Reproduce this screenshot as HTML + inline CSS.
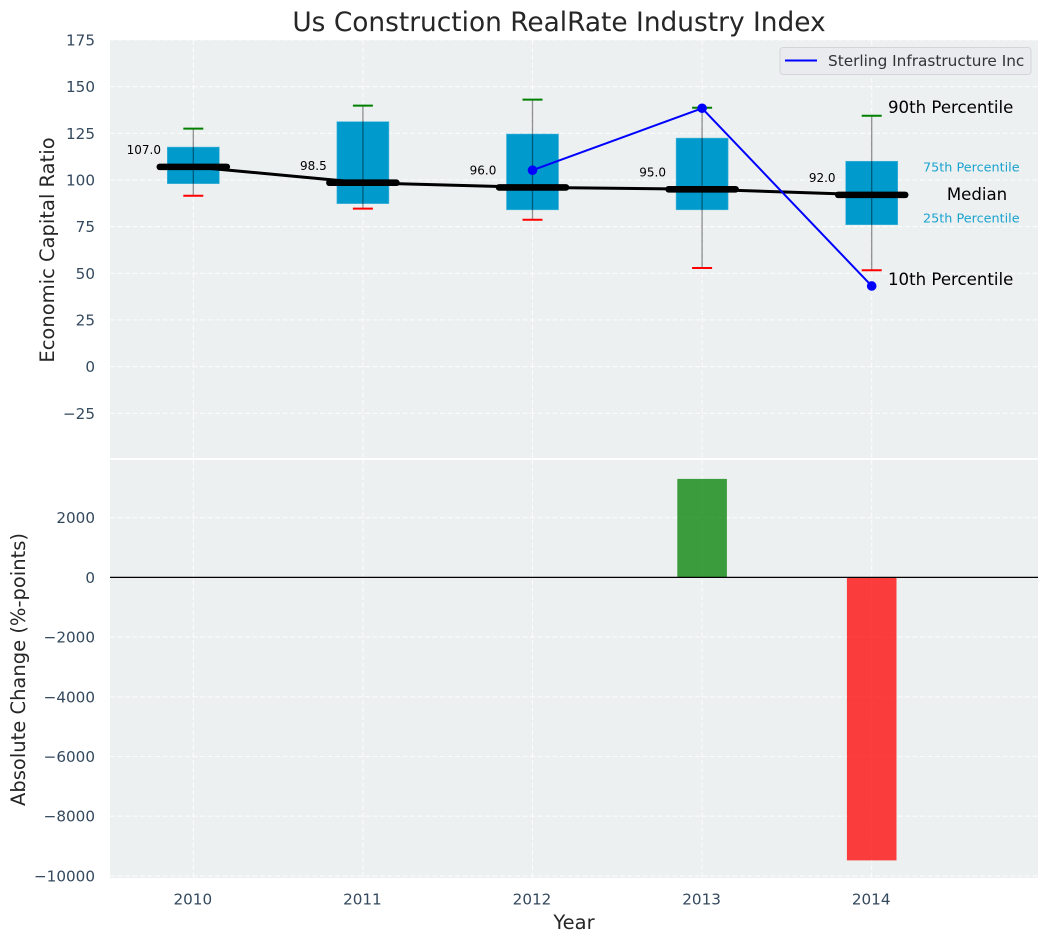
<!DOCTYPE html>
<html>
<head>
<meta charset="utf-8">
<title>Us Construction RealRate Industry Index</title>
<style>
html,body{margin:0;padding:0;background:#fff;width:1048px;height:942px;overflow:hidden}
svg{display:block}
text{font-family:"DejaVu Sans","Liberation Sans",sans-serif}
</style>
</head>
<body>
<svg id="chart" xmlns="http://www.w3.org/2000/svg" width="1048" height="942" viewBox="0 0 1048 942">
  <defs>
    <clipPath id="clip-top"><rect x="110" y="40" width="928" height="418"></rect></clipPath>
    <clipPath id="clip-bottom"><rect x="110" y="460" width="928" height="418"></rect></clipPath>
  </defs>
  <rect x="110" y="40" width="928" height="418" fill="#ecf0f1"></rect>
  <rect x="110" y="460" width="928" height="418" fill="#ecf0f1"></rect>
  <g id="top-grid" clip-path="url(#clip-top)"></g>
  <g id="bottom-grid" clip-path="url(#clip-bottom)"></g>
  <g id="boxes" clip-path="url(#clip-top)"></g>
  <g id="bars" clip-path="url(#clip-bottom)"></g>
  <g id="ticks"></g>
  <text x="559" y="31" font-size="26.4" fill="#262626" text-anchor="middle">Us Construction RealRate Industry Index</text>
  <text transform="translate(54,250) rotate(-90)" font-size="19.5" fill="#262626" text-anchor="middle">Economic Capital Ratio</text>
  <text transform="translate(25,669.5) rotate(-90)" font-size="19.5" fill="#262626" text-anchor="middle">Absolute Change (%-points)</text>
  <text x="574" y="929" font-size="19.5" fill="#262626" text-anchor="middle">Year</text>
  <text x="888" y="113" font-size="16.6" fill="#000">90th Percentile</text>
  <text x="923" y="171.5" font-size="12.8" fill="#1ba3cf">75th Percentile</text>
  <text x="977" y="200" font-size="16.6" fill="#000" text-anchor="middle">Median</text>
  <text x="923" y="222.5" font-size="12.8" fill="#1ba3cf">25th Percentile</text>
  <text x="888" y="285" font-size="16.6" fill="#000">10th Percentile</text>
  <g>
    <rect x="780" y="47.5" width="251" height="27" rx="3" fill="#e9ebef" stroke="#d3d5d8" stroke-width="1"></rect>
    <line x1="785" y1="60.5" x2="817" y2="60.5" stroke="#0000ff" stroke-width="2"></line>
    <text x="828" y="66" font-size="15.3" fill="#333">Sterling Infrastructure Inc</text>
  </g>
</svg>
<script>
var years = [2010, 2011, 2012, 2013, 2014];
var medians = [107, 98.5, 96, 95, 92];
var p25 = [98, 87.3, 84, 84, 76];
var p75 = [117.6, 131.2, 124.6, 122.4, 110];
var p10 = [91.5, 84.6, 78.7, 52.8, 51.6];
var p90 = [127.5, 139.8, 143, 138.7, 134.4];
var companyYears = [2012, 2013, 2014];
var companyValues = [105.2, 138.4, 43.2];
var changeValues = [0, 0, 0, 3300, -9480];
var topTicks = [175, 150, 125, 100, 75, 50, 25, 0, -25];
var bottomTicks = [2000, 0, -2000, -4000, -6000, -8000, -10000];

var NS = 'http://www.w3.org/2000/svg';
function xScale(v) { return 193.3 + (v - 2010) * 169.6; }
function yTop(v) { return 366.6 - v * 1.8667; }
function yBottom(v) { return 577.4 - v * 0.02985; }
function mk(tag, attrs, parent) {
  var el = document.createElementNS(NS, tag);
  for (var k in attrs) { el.setAttribute(k, attrs[k]); }
  parent.appendChild(el);
  return el;
}
function fmtTick(v) { return v < 0 ? '\u2212' + Math.abs(v) : String(v); }

var topGrid = document.getElementById('top-grid');
var bottomGrid = document.getElementById('bottom-grid');
var boxes = document.getElementById('boxes');
var bars = document.getElementById('bars');
var ticks = document.getElementById('ticks');
var gridStyle = {stroke: '#ffffff', 'stroke-opacity': 0.8, 'stroke-width': 1.1, 'stroke-dasharray': '5 2.5'};

topTicks.forEach(function (t) {
  var line = mk('line', {x1: 110, x2: 1038, y1: yTop(t), y2: yTop(t), stroke: gridStyle.stroke, 'stroke-opacity': gridStyle['stroke-opacity'], 'stroke-width': gridStyle['stroke-width'], 'stroke-dasharray': gridStyle['stroke-dasharray']}, topGrid);
  
  
  var label = mk('text', {x: 95, y: yTop(t) + 5.5, 'font-size': 15.2, fill: '#34495e', 'text-anchor': 'end'}, ticks);
  label.textContent = fmtTick(t);
  
  
});

bottomTicks.forEach(function (t) {
  var line = mk('line', {x1: 110, x2: 1038, y1: yBottom(t), y2: yBottom(t), stroke: gridStyle.stroke, 'stroke-opacity': gridStyle['stroke-opacity'], 'stroke-width': gridStyle['stroke-width'], 'stroke-dasharray': gridStyle['stroke-dasharray']}, bottomGrid);
  
  
  var label = mk('text', {x: 95, y: yBottom(t) + 5.5, 'font-size': 15.2, fill: '#34495e', 'text-anchor': 'end'}, ticks);
  label.textContent = fmtTick(t);
  
  
});

years.forEach(function (yr) {
  var cx = xScale(yr);
  var v1 = mk('line', {x1: cx, x2: cx, y1: 40, y2: 458, stroke: gridStyle.stroke, 'stroke-opacity': gridStyle['stroke-opacity'], 'stroke-width': gridStyle['stroke-width'], 'stroke-dasharray': gridStyle['stroke-dasharray']}, topGrid);
  
  
  var v2 = mk('line', {x1: cx, x2: cx, y1: 460, y2: 878, stroke: gridStyle.stroke, 'stroke-opacity': gridStyle['stroke-opacity'], 'stroke-width': gridStyle['stroke-width'], 'stroke-dasharray': gridStyle['stroke-dasharray']}, bottomGrid);
  
  
  var label = mk('text', {x: cx - 0.5, y: 904.5, 'font-size': 15.2, fill: '#34495e', 'text-anchor': 'middle'}, ticks);
  label.textContent = String(yr);
  
  
});

years.forEach(function (yr, i) {
  var cx = xScale(yr);
  var halfWidth = 26;
  var box = mk('rect', {x: cx - halfWidth, y: yTop(p75[i]), width: halfWidth * 2, height: yTop(p25[i]) - yTop(p75[i]), fill: '#009ACD', stroke: '#4db5da', 'stroke-width': 0.6}, boxes);
  
  
  var whisker = mk('line', {x1: cx, x2: cx, y1: yTop(p90[i]), y2: yTop(p10[i]), stroke: '#000', 'stroke-opacity': 0.42, 'stroke-width': 1.3}, boxes);
  
  
  var capHigh = mk('line', {x1: cx - 10, x2: cx + 10, y1: yTop(p90[i]), y2: yTop(p90[i]), stroke: '#008000', 'stroke-width': 2}, boxes);
  
  
  var capLow = mk('line', {x1: cx - 10, x2: cx + 10, y1: yTop(p10[i]), y2: yTop(p10[i]), stroke: '#ff0000', 'stroke-width': 2}, boxes);
  
  
});

var medianPoints = years.map(function (yr, i) { return xScale(yr) + ',' + yTop(medians[i]); }).join(' ');
var medianLine = mk('polyline', {points: medianPoints, fill: 'none', stroke: '#000', 'stroke-width': 3}, boxes);



years.forEach(function (yr, i) {
  var cx = xScale(yr);
  var y = yTop(medians[i]);
  var seg = mk('line', {x1: cx - 33.5, x2: cx + 33.5, y1: y, y2: y, stroke: '#000', 'stroke-width': 6.6, 'stroke-linecap': 'round'}, boxes);
  
  
  var label = mk('text', {x: cx - 49.5, y: y - 12.8, 'font-size': 12, fill: '#000', 'text-anchor': 'middle'}, boxes);
  label.textContent = medians[i].toFixed(1);
  
  
});

var companyPoints = companyYears.map(function (yr, i) { return xScale(yr) + ',' + yTop(companyValues[i]); }).join(' ');
var companyLine = mk('polyline', {points: companyPoints, fill: 'none', stroke: '#0000ff', 'stroke-width': 2}, boxes);


companyYears.forEach(function (yr, i) {
  var dot = mk('circle', {cx: xScale(yr), cy: yTop(companyValues[i]), r: 4.8, fill: '#0000ff'}, boxes);
  
  
});

years.forEach(function (yr, i) {
  var v = changeValues[i];
  if (v === 0) { return; }
  var top = Math.min(yBottom(v), yBottom(0));
  var h = Math.abs(yBottom(v) - yBottom(0));
  var bar = mk('rect', {x: xScale(yr) - 24.8, y: top, width: 49.6, height: h, fill: v > 0 ? '#008000' : '#ff0000', 'fill-opacity': 0.75}, bars);
  
  
});
var zeroLine = mk('line', {x1: 110, x2: 1038, y1: yBottom(0), y2: yBottom(0), stroke: '#000', 'stroke-width': 1.3}, bars);


</script>
</body>
</html>
